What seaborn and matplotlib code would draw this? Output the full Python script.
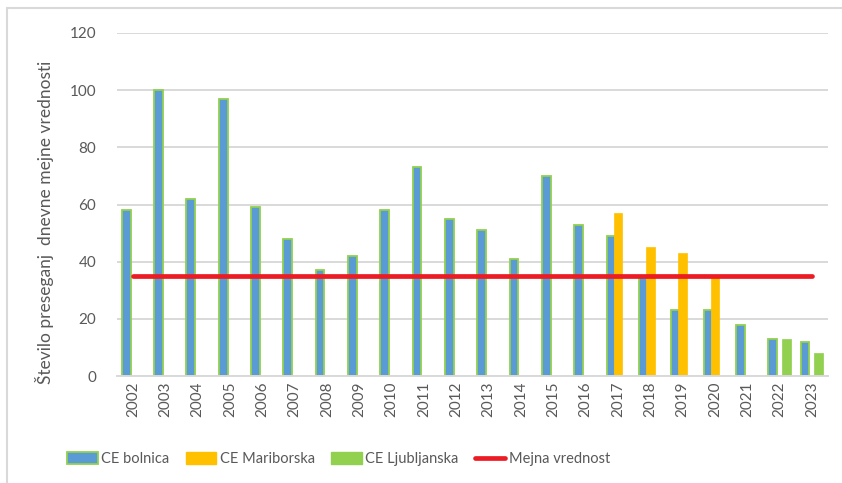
import numpy as np
import pandas as pd
import matplotlib
matplotlib.use("Agg")
import matplotlib.pyplot as plt
import seaborn as sns
from matplotlib.patches import Patch
from matplotlib.lines import Line2D

# ---- data ----
years = [str(y) for y in range(2002, 2024)]
bolnica = [58, 100, 62, 97, 59, 48, 37, 42, 58, 73, 55, 51, 41, 70, 53, 49, 35, 23, 23, 18, 13, 12]
mariborska = [None] * 15 + [57, 45, 43, 35] + [None] * 3
ljubljanska = [None] * 20 + [13, 8]
limit = [35] * 22
series_names = ["CE bolnica", "CE Mariborska", "CE Ljubljanska"]
limit_name = "Mejna vrednost"
ylabel = "Število preseganj  dnevne mejne vrednosti"

colors = {"CE bolnica": "#5B9BD5", "CE Mariborska": "#FFC000", "CE Ljubljanska": "#92D050"}
edge_green = "#92D050"
red = "#ED1C24"
grid_c = "#D9D9D9"
text_c = "#595959"

rows = []
for name, vals in zip(series_names, [bolnica, mariborska, ljubljanska]):
    for y, v in zip(years, vals):
        if v is not None:
            rows.append({"year": y, "value": v, "series": name})
df = pd.DataFrame(rows)

sns.set_theme(style="white")
plt.rcParams["font.family"] = ["Lato", "DejaVu Sans"]

fig = plt.figure(figsize=(8.42, 4.83), dpi=100)
ax = fig.add_axes([117 / 842, 1 - 376 / 483, (828 - 117) / 842, (376 - 33) / 483])

sns.barplot(data=df, x="year", y="value", hue="series", order=years,
            hue_order=series_names, palette=colors, width=0.645,
            dodge=True, ax=ax, legend=False, saturation=1, zorder=2)

# widen bars slightly (Excel-like overlap) and style edges
for cont, name in zip(ax.containers, series_names):
    for p in cont.patches:
        c = p.get_x() + p.get_width() / 2
        w = 0.27
        p.set_x(c - w / 2)
        p.set_width(w)
        if name == "CE bolnica":
            p.set_edgecolor(edge_green)
            p.set_linewidth(1.3)
        else:
            p.set_edgecolor(colors[name])
            p.set_linewidth(0.5)

sns.lineplot(x=np.arange(len(years)), y=limit, color=red, linewidth=3.4,
             ax=ax, zorder=4)

ax.set_xlim(-0.5, len(years) - 0.5)
ax.set_ylim(0, 120)
ax.set_yticks(range(0, 121, 20))
ax.set_xticks(range(len(years)))
ax.set_xticklabels(years, rotation=90)
ax.yaxis.grid(True, color=grid_c, linewidth=1.4, zorder=0)
ax.set_axisbelow(True)
for s in ["top", "right", "left"]:
    ax.spines[s].set_visible(False)
ax.spines["bottom"].set_color(grid_c)
ax.spines["bottom"].set_linewidth(1.4)
ax.tick_params(axis="y", length=0, pad=15, labelsize=11, labelcolor=text_c)
ax.tick_params(axis="x", length=0, pad=4, labelsize=11, labelcolor=text_c)
ax.set_xlabel("")
ax.set_ylabel("")
fig.text(45 / 842, 1 - 222 / 483, ylabel, rotation=90, ha="center", va="center",
         fontsize=12.5, color=text_c)

handles = [
    Patch(facecolor=colors["CE bolnica"], edgecolor=edge_green, linewidth=1.3),
    Patch(facecolor=colors["CE Mariborska"], edgecolor=colors["CE Mariborska"]),
    Patch(facecolor=colors["CE Ljubljanska"], edgecolor=colors["CE Ljubljanska"]),
    Line2D([0], [0], color=red, linewidth=3.4),
]
labels = series_names + [limit_name]
leg = fig.legend(handles, labels, loc="center left",
                 bbox_to_anchor=(67 / 842, 1 - 459 / 483), ncol=4, frameon=False,
                 fontsize=10.5, handlelength=2.1, handleheight=0.8,
                 handletextpad=0.25, columnspacing=1.1, borderpad=0, borderaxespad=0)
for t in leg.get_texts():
    t.set_color(text_c)

# chart-area border (left and top visible)
fig.add_artist(Line2D([7 / 842, 7 / 842], [0, 1 - 8 / 483], color=grid_c, linewidth=1.5))
fig.add_artist(Line2D([7 / 842, 1], [1 - 8 / 483, 1 - 8 / 483], color=grid_c, linewidth=1.5))

fig.savefig("out.png", dpi=100)
